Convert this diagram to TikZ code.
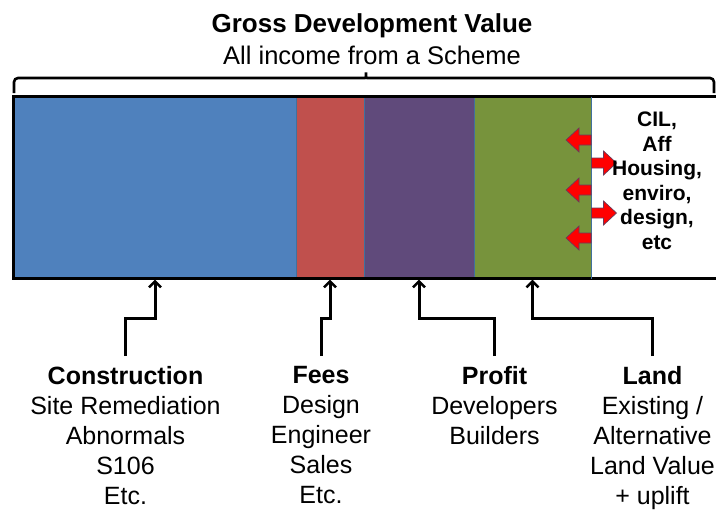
\documentclass[tikz,border=0pt]{standalone}
\usepackage{fontspec}
\setmainfont{Liberation Sans}
\usetikzlibrary{arrows.meta}
\definecolor{segblue}{HTML}{4F81BD}
\definecolor{segred}{HTML}{C0504D}
\definecolor{segpurple}{HTML}{604A7B}
\definecolor{seggreen}{HTML}{77933C}
\definecolor{segedge}{HTML}{41719C}
\definecolor{arrowedge}{HTML}{6B3A5A}
\begin{document}
\begin{tikzpicture}[x=1pt,y=-1pt,
  seg/.style={draw=segedge, line width=1pt, inner sep=0pt, minimum height=181pt},
  conn/.style={line width=3pt, shorten >=1pt, -{Straight Barb[length=6pt,width=12pt,line width=2.5pt]}},
  lbl/.style={align=center, inner sep=0pt, font=\fontsize{25}{30}\selectfont},
  brace/.style={line width=2.6pt, rounded corners=4pt},
  larrow/.pic={\path[fill=red, draw=arrowedge, line width=0.7pt] (0,-5) -- (-12,-5) -- (-12,-12) -- (-25,0) -- (-12,12) -- (-12,5) -- (0,5) -- cycle;},
  rarrow/.pic={\path[fill=red, draw=arrowedge, line width=0.7pt] (0,-5) -- (12,-5) -- (12,-12) -- (25,0) -- (12,12) -- (12,5) -- (0,5) -- cycle;}]
\useasboundingbox (0,0) rectangle (716,512);
\fill[white] (0,0) rectangle (716,512);

% titles
\node[font=\bfseries\fontsize{26}{30}\selectfont, anchor=base, inner sep=0pt] (title) at (372,32) {Gross Development Value};
\node[font=\fontsize{25.5}{30}\selectfont, anchor=base, inner sep=0pt] (sub) at (372,64) {All income from a Scheme};

% brace
\draw[brace] (14,93) -- (14,78) -- (361,78) .. controls (366,78) .. (366,70) .. controls (366,78) .. (371,78) -- (714,78) -- (714,93);

% bar segments
\node[seg, fill=segblue, minimum width=282pt] (blue) at (155,187.5) {};
\node[seg, fill=segred, minimum width=68pt] (red) at (330,187.5) {};
\node[seg, fill=segpurple, minimum width=110pt] (purple) at (419,187.5) {};
\node[seg, fill=seggreen, minimum width=117pt] (green) at (532.5,187.5) {};
\node[seg, fill=white, draw=none, minimum width=129pt] (white) at (655.5,187.5) {};
\draw[line width=2.5pt] (blue.north west) rectangle (white.south east);
\draw[segedge, line width=1pt] (green.north east) -- (green.south east);

% red arrows
\pic at (591,140) {larrow};
\pic at (591,190) {larrow};
\pic at (591,238) {larrow};
\pic at (591.5,163) {rarrow};
\pic at (591.5,213) {rarrow};

% white box text
\node[align=center, inner sep=0pt, font=\bfseries\fontsize{21}{24.5}\selectfont] (whitetxt) at (657,181) {CIL,\\Aff\\Housing,\\enviro,\\design,\\etc};

% labels
\node[lbl, anchor=north] (cons) at (125.5,366) {\textbf{Construction}\\Site Remediation\\Abnormals\\S106\\Etc.};
\node[lbl, anchor=north] (fees) at (321,366) {\textbf{Fees}\\Design\\Engineer\\Sales\\Etc.};
\node[lbl, anchor=north] (profit) at (494.5,366) {\textbf{Profit}\\Developers\\Builders};
\node[lbl, anchor=north] (land) at (652.5,366) {\textbf{Land}\\Existing /\\Alternative\\Land Value\\+ uplift};

% connectors
\coordinate (h) at (0,318);
\coordinate (b) at (0,356);
\draw[conn] (cons.north |- b) -- (cons.north |- h) -| (blue.south);
\draw[conn] (fees.north |- b) -- (fees.north |- h) -| (red.south);
\draw[conn] (profit.north |- b) -- (profit.north |- h) -| (purple.south);
\draw[conn] (land.north |- b) -- (land.north |- h) -| (green.south);
\end{tikzpicture}
\end{document}
